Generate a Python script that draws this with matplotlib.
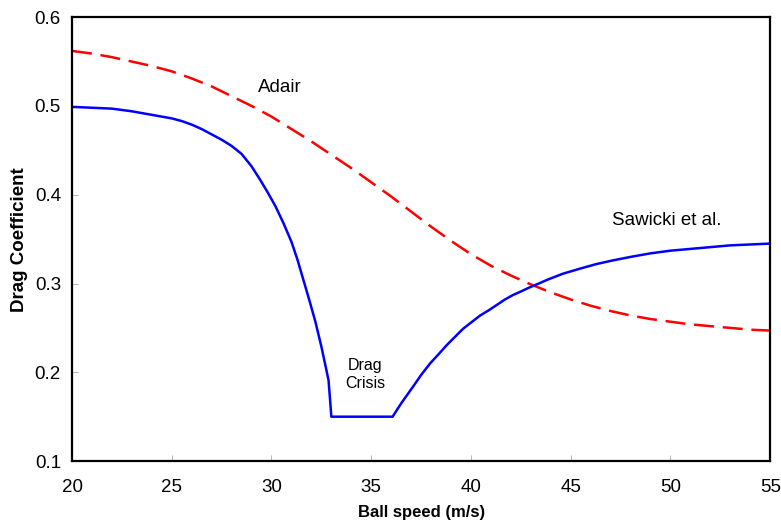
import matplotlib
matplotlib.use('Agg')
import matplotlib.pyplot as plt

plt.rcParams['font.family'] = ['Liberation Sans', 'DejaVu Sans']

# Sawicki et al. curve
sawicki_speed = [20, 21, 22, 23, 24, 25, 25.5, 26, 26.5, 27, 27.5, 28, 28.5, 29,
                 29.4, 29.8, 30.2, 30.6, 31.0, 31.3, 31.6, 31.9, 32.2, 32.5, 32.7,
                 32.86, 32.95, 33.0, 36.07, 36.5, 37.1, 37.5, 37.95, 38.4, 38.8,
                 39.2, 39.6, 40.0, 40.46, 40.9, 41.3, 41.7, 42.1, 42.5, 42.97, 43.4,
                 43.8, 44.6, 45.5, 46.3, 47.1, 48, 49, 50, 51, 52, 53, 54, 55]
sawicki_cd = [0.499, 0.498, 0.497, 0.494, 0.490, 0.486, 0.483, 0.479, 0.474, 0.468,
              0.462, 0.455, 0.446, 0.432, 0.418, 0.403, 0.387, 0.368, 0.347, 0.327,
              0.304, 0.281, 0.257, 0.229, 0.208, 0.191, 0.165, 0.150, 0.150, 0.165,
              0.184, 0.197, 0.210, 0.221, 0.231, 0.240, 0.249, 0.256, 0.264, 0.270,
              0.276, 0.282, 0.287, 0.291, 0.296, 0.300, 0.304, 0.311, 0.317, 0.322,
              0.326, 0.330, 0.334, 0.337, 0.339, 0.341, 0.343, 0.344, 0.345]

# Adair curve
adair_speed = [20, 21, 22, 23, 24, 25, 26, 27, 28, 29, 30, 31, 32, 33, 34, 35, 36,
               37, 38, 39, 40, 41, 42, 43, 44, 45, 46, 47, 48, 49, 50, 51, 52, 53,
               54, 55]
adair_cd = [0.562, 0.559, 0.555, 0.550, 0.545, 0.539, 0.531, 0.522, 0.511, 0.500,
            0.488, 0.474, 0.460, 0.445, 0.430, 0.414, 0.398, 0.381, 0.364, 0.348,
            0.333, 0.320, 0.309, 0.299, 0.290, 0.282, 0.275, 0.269, 0.264, 0.260,
            0.257, 0.254, 0.252, 0.250, 0.248, 0.247]

fig = plt.figure(figsize=(7.81, 5.21), dpi=100)
ax = fig.add_axes([0.0922, 0.115, 0.894, 0.852])

ax.plot(adair_speed, adair_cd, color='red', lw=1.8, dashes=(8, 3.5))
ax.plot(sawicki_speed, sawicki_cd, color='blue', lw=1.8)

ax.set_xlim(20, 55)
ax.set_ylim(0.1, 0.6)
ax.set_xticks([20, 25, 30, 35, 40, 45, 50, 55])
ax.set_yticks([0.1, 0.2, 0.3, 0.4, 0.5, 0.6])
ax.tick_params(direction='in', length=4, width=0.6, color='#aaaaaa',
               labelsize=13.5, pad=13)
ax.tick_params(axis='y', pad=8)
for s in ax.spines.values():
    s.set_linewidth(1.6)

ax.set_xlabel('Ball speed (m/s)', fontsize=12, fontweight='bold', va='top')
ax.set_ylabel('Drag Coefficient', fontsize=13.5, fontweight='bold')
ax.xaxis.set_label_coords(0.5, -0.1)
ax.yaxis.set_label_coords(-0.063, 0.5)

ax.text(30.4, 0.521, 'Adair', fontsize=13.5, ha='center', va='center')
ax.text(34.7, 0.198, 'Drag\nCrisis', fontsize=11.5, ha='center', va='center',
        linespacing=1.25)
ax.text(49.8, 0.371, 'Sawicki et al.', fontsize=13.5, ha='center', va='center')

fig.savefig('out.png', dpi=100)
